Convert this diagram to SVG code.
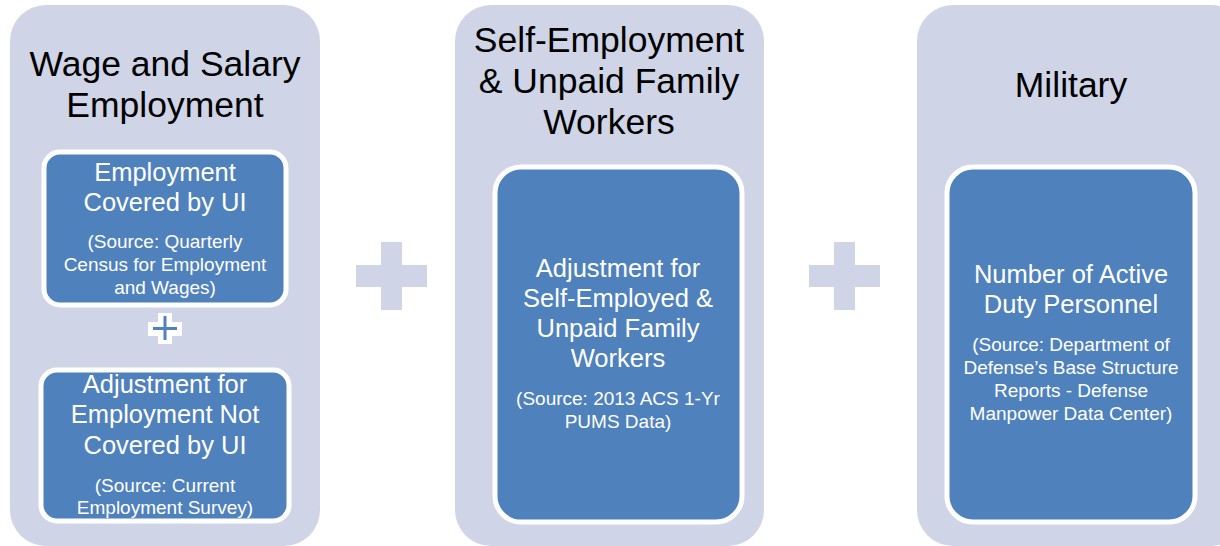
<svg xmlns="http://www.w3.org/2000/svg" width="1220" height="546" viewBox="0 0 1220 546">
<style>
.panel{fill:#CFD5E6}
.box{fill:#4F81BD;stroke:#FFFFFF;stroke-width:5}
.plus{fill:#CFD5E6}
.t{font-family:"Liberation Sans",Arial,sans-serif;text-anchor:middle}
.title{font-size:35.5px;fill:#000000}
.main{font-size:25.5px;fill:#FFFFFF}
.src{font-size:19px;fill:#FFFFFF}
</style>
<rect width="1220" height="546" fill="#FFFFFF"/>
<g id="connectors">
  <g id="plus1"><rect class="plus" x="356" y="265" width="71" height="22"/><rect class="plus" x="381" y="242" width="21" height="68"/></g>
  <g id="plus2"><rect class="plus" x="809" y="265" width="71" height="22"/><rect class="plus" x="834" y="242" width="21" height="68"/></g>
</g>
<g id="panel-wage">
  <rect class="panel" x="10" y="5" width="310" height="541" rx="36"/>
  <text class="t title" x="165" y="76">Wage and Salary</text>
  <text class="t title" x="165" y="117">Employment</text>
</g>
<g id="node-covered">
  <rect class="box" x="44" y="152" width="242" height="153" rx="16"/>
  <text class="t main" x="165" y="181">Employment</text>
  <text class="t main" x="165" y="211">Covered by UI</text>
  <text class="t src" x="165" y="248">(Source: Quarterly</text>
  <text class="t src" x="165" y="271">Census for Employment</text>
  <text class="t src" x="165" y="294">and Wages)</text>
</g>
<g id="small-plus">
  <rect x="148" y="322" width="34" height="14" fill="#FFFFFF"/>
  <rect x="158" y="313" width="14" height="31" fill="#FFFFFF"/>
  <rect x="153" y="327" width="24" height="3" fill="#4F81BD"/>
  <rect x="163.5" y="316" width="3" height="24" fill="#4F81BD"/>
</g>
<g id="node-notcovered">
  <rect class="box" x="41" y="370" width="248" height="151" rx="16"/>
  <text class="t main" x="165" y="393">Adjustment for</text>
  <text class="t main" x="165" y="423">Employment Not</text>
  <text class="t main" x="165" y="454">Covered by UI</text>
  <text class="t src" x="165" y="492">(Source: Current</text>
  <text class="t src" x="165" y="514">Employment Survey)</text>
</g>
<g id="panel-self">
  <rect class="panel" x="455" y="5" width="309" height="541" rx="36"/>
  <text class="t title" x="609" y="52">Self-Employment</text>
  <text class="t title" x="609" y="93">&amp; Unpaid Family</text>
  <text class="t title" x="609" y="134">Workers</text>
</g>
<g id="node-self">
  <rect class="box" x="495" y="167" width="247" height="355" rx="26"/>
  <text class="t main" x="618" y="277">Adjustment for</text>
  <text class="t main" x="618" y="307">Self-Employed &amp;</text>
  <text class="t main" x="618" y="337">Unpaid Family</text>
  <text class="t main" x="618" y="367">Workers</text>
  <text class="t src" x="618" y="405">(Source: 2013 ACS 1-Yr</text>
  <text class="t src" x="618" y="428">PUMS Data)</text>
</g>
<g id="panel-military">
  <rect class="panel" x="917" y="5" width="330" height="541" rx="36"/>
  <text class="t title" x="1071" y="97">Military</text>
</g>
<g id="node-military">
  <rect class="box" x="947" y="167" width="248" height="355" rx="26"/>
  <text class="t main" x="1071" y="283">Number of Active</text>
  <text class="t main" x="1071" y="313">Duty Personnel</text>
  <text class="t src" x="1071" y="351">(Source: Department of</text>
  <text class="t src" x="1071" y="374">Defense’s Base Structure</text>
  <text class="t src" x="1071" y="397">Reports - Defense</text>
  <text class="t src" x="1071" y="420">Manpower Data Center)</text>
</g>
</svg>
